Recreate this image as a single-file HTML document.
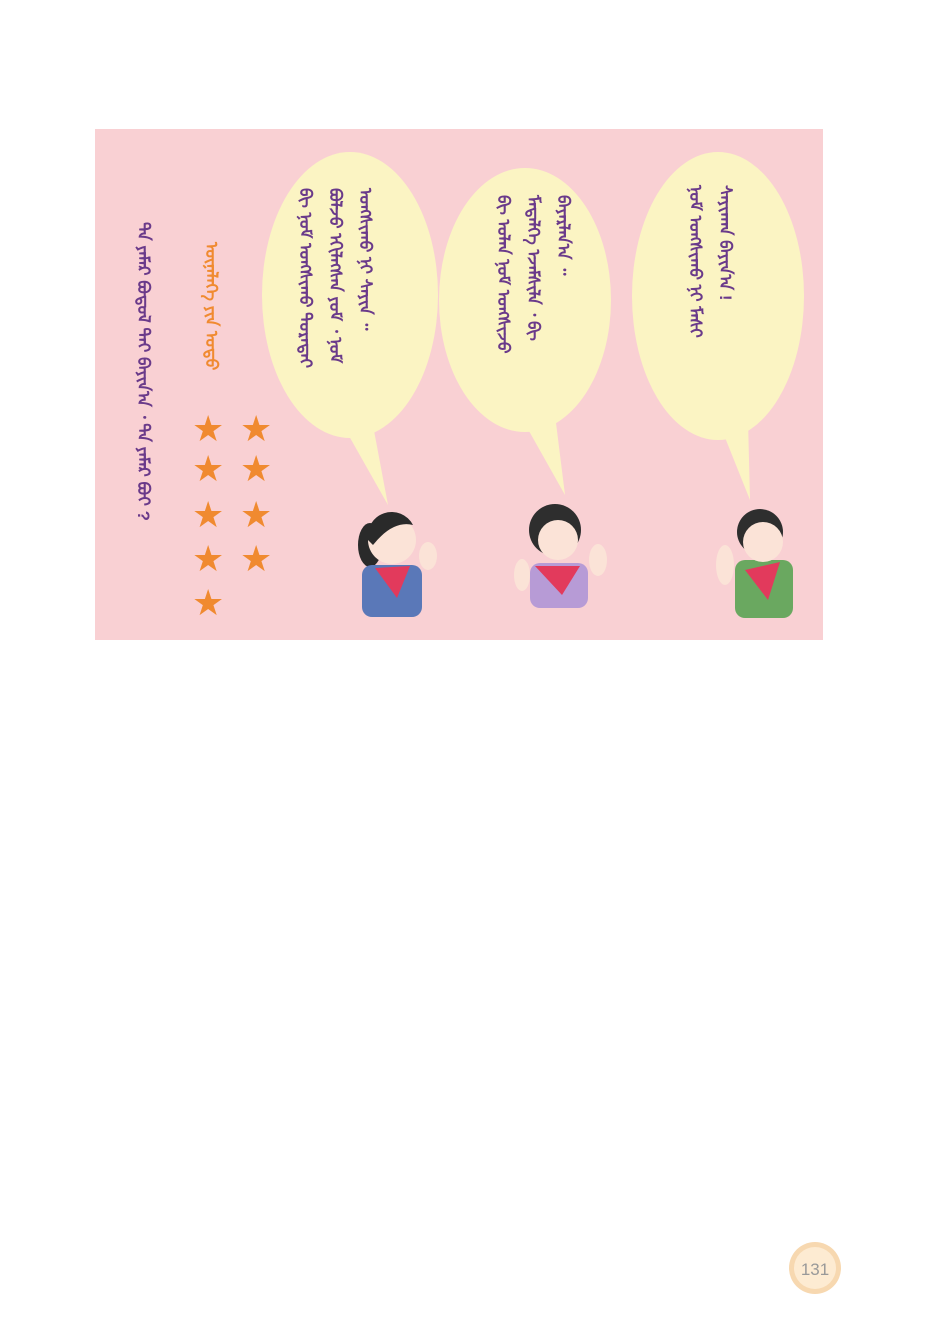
<!DOCTYPE html>
<html><head><meta charset="utf-8"><style>
body{margin:0;width:940px;height:1337px;background:#fff;position:relative;overflow:hidden;font-family:"Liberation Sans",sans-serif}
.vt{position:absolute;writing-mode:vertical-lr;font-family:"Liberation Sans","Noto Sans CJK SC",sans-serif;font-size:17px;font-weight:bold;line-height:30px;white-space:nowrap}
</style></head><body>
<svg width="940" height="1337" style="position:absolute;left:0;top:0">
<rect x="95" y="129" width="728" height="511" fill="#f9d0d3"/>
<g fill="#fbf4c3">
<ellipse cx="350" cy="295" rx="88" ry="143"/><polygon points="340,420 372,420 388,505"/>
<ellipse cx="525" cy="300" rx="86" ry="132"/><polygon points="520,415 555,415 565,495"/>
<ellipse cx="718" cy="296" rx="86" ry="144"/><polygon points="718,420 748,420 750,500"/>
</g>
<g fill="#f08a30" font-size="36" font-family="DejaVu Sans">
<text x="192" y="441">★</text><text x="192" y="481">★</text><text x="192" y="527">★</text><text x="192" y="571">★</text><text x="192" y="615">★</text>
<text x="240" y="441">★</text><text x="240" y="481">★</text><text x="240" y="527">★</text><text x="240" y="571">★</text>
</g>
<g>
<ellipse cx="370" cy="545" rx="12" ry="22" fill="#2a2a2a"/>
<rect x="362" y="565" width="60" height="52" rx="10" fill="#5a78b8"/>
<circle cx="392" cy="540" r="24" fill="#fbe3d7"/><path d="M368 540 a24 24 0 0 1 45 -15 q-20 -5 -40 20z" fill="#2a2a2a"/>
<polygon points="375,568 410,566 397,598" fill="#e23a5c"/>
<ellipse cx="428" cy="556" rx="9" ry="14" fill="#fbe3d7"/>
</g>
<g>
<rect x="530" y="563" width="58" height="45" rx="10" fill="#b79bd6"/>
<circle cx="555" cy="530" r="26" fill="#2e2e2e"/><circle cx="558" cy="540" r="20" fill="#fbe3d7"/>
<polygon points="535,566 580,566 562,595" fill="#e23a5c"/>
<ellipse cx="522" cy="575" rx="8" ry="16" fill="#fbe3d7"/><ellipse cx="598" cy="560" rx="9" ry="16" fill="#fbe3d7"/>
</g>
<g>
<rect x="735" y="560" width="58" height="58" rx="10" fill="#6aa860"/>
<circle cx="760" cy="532" r="23" fill="#2e2e2e"/><circle cx="763" cy="542" r="20" fill="#fbe3d7"/>
<polygon points="745,570 780,562 768,600" fill="#e23a5c"/>
<ellipse cx="725" cy="565" rx="9" ry="20" fill="#fbe3d7"/>
</g>
<g>
<circle cx="815" cy="1268" r="26" fill="#f7d8b0"/><circle cx="815" cy="1268" r="21" fill="#fdebd2"/>
<text x="815" y="1275" text-anchor="middle" font-size="17" fill="#999">131</text>
</g>
</svg>
<div class="vt" style="left:128px;top:222px;color:#6a3a8a">ᠲᠠ ᠶᠠᠮᠠᠷ ᠪᠣᠳᠤᠯ ᠲᠠᠢ ᠪᠠᠶᠢᠨ᠎ᠠ ᠂ ᠲᠠ ᠶᠠᠮᠠᠷ ᠪᠤᠢ ?</div>
<div class="vt" style="left:196px;top:242px;color:#f08a30">ᠦᠨᠡᠯᠡᠭᠡ ᠶᠢᠨ ᠣᠳᠤ</div>
<div class="vt" style="left:290px;top:188px;height:222px;width:110px;color:#6a3a8a;white-space:normal">ᠪᠢ ᠨᠣᠮ ᠤᠩᠰᠢᠬᠤ ᠳᠤᠷᠠᠲᠠᠢ ᠪᠣᠯᠵᠤ ᠡᠬᠢᠯᠡᠭᠰᠡᠨ ᠶᠤᠮ ᠂ ᠨᠣᠮ ᠤᠩᠰᠢᠬᠤ ᠨᠢ ᠰᠠᠶᠢᠨ ᠃</div>
<div class="vt" style="left:488px;top:195px;height:210px;width:90px;color:#6a3a8a;white-space:normal">ᠪᠢ ᠣᠯᠠᠨ ᠨᠣᠮ ᠤᠩᠰᠢᠵᠤ ᠮᠡᠳᠡᠯᠭᠡ ᠡᠵᠡᠮᠰᠢᠯᠡ ᠂ ᠪᠢ ᠪᠠᠶᠠᠷᠯᠠᠨ᠎ᠠ ᠃</div>
<div class="vt" style="left:680px;top:185px;height:200px;width:80px;color:#6a3a8a;white-space:normal">ᠨᠣᠮ ᠤᠩᠰᠢᠬᠤ ᠨᠢ ᠮᠠᠰᠢ ᠰᠠᠶᠢᠬᠠᠨ ᠪᠠᠶᠢᠨ᠎ᠠ !</div>
</body></html>
